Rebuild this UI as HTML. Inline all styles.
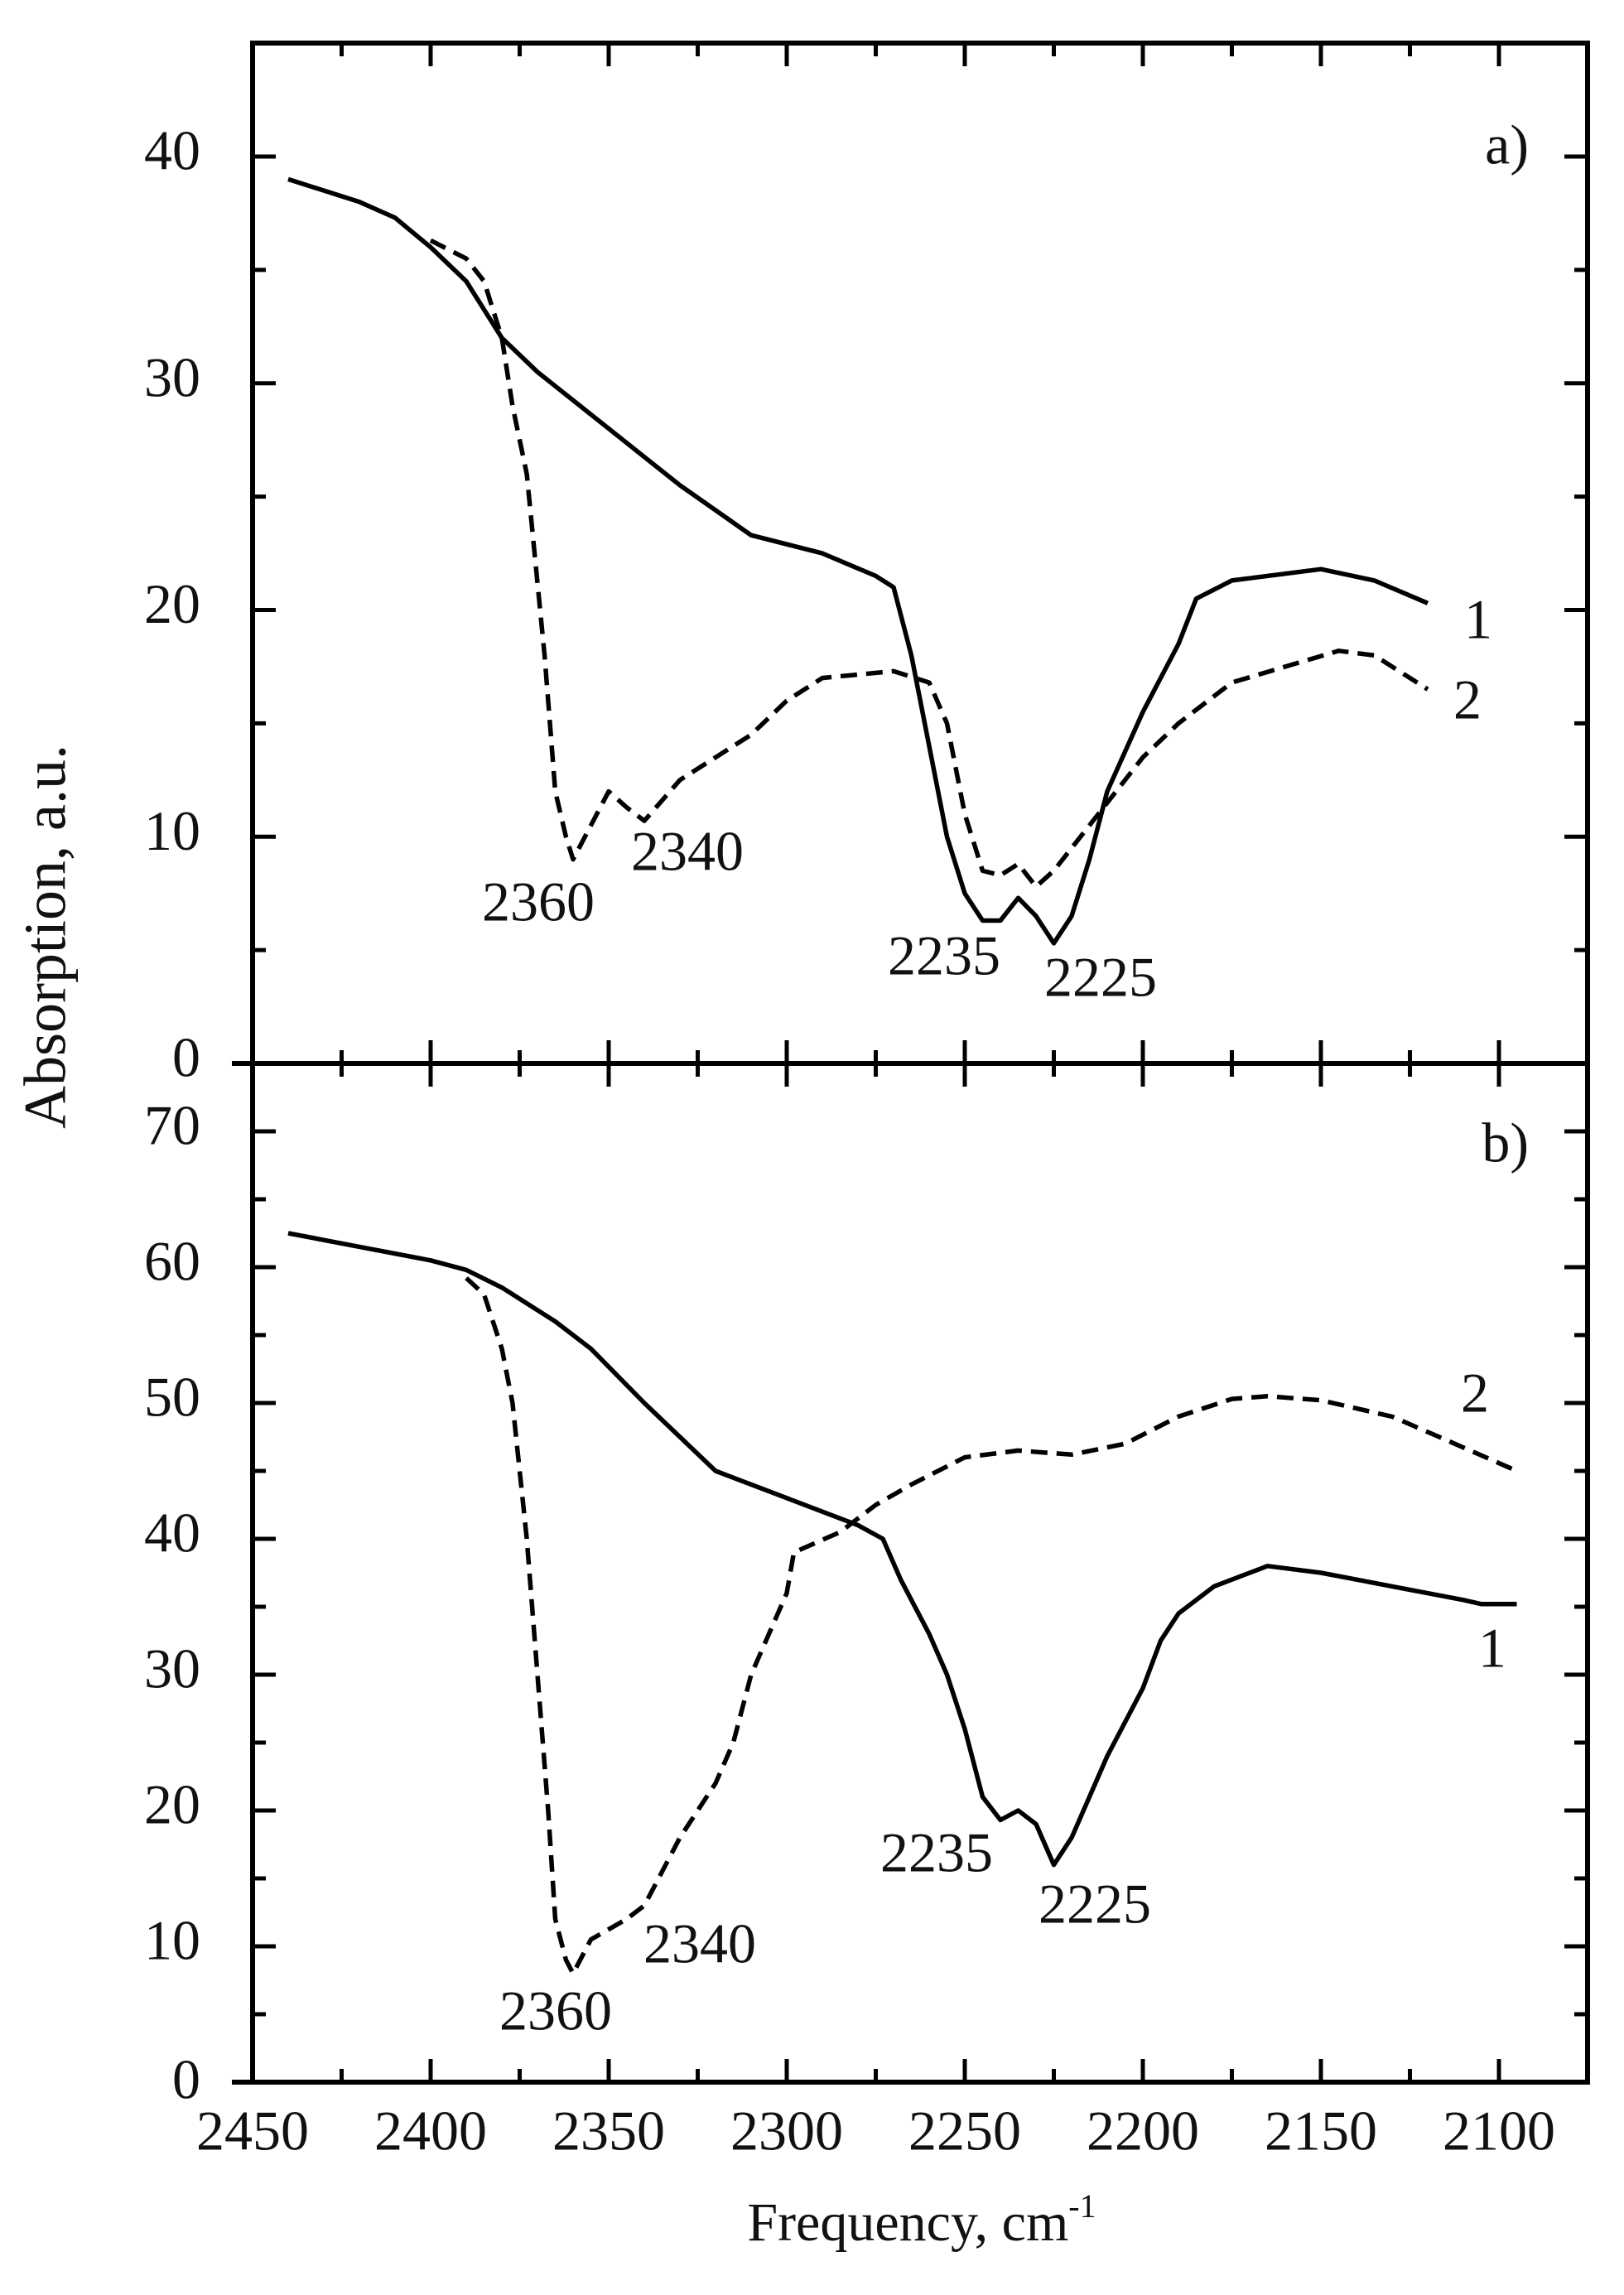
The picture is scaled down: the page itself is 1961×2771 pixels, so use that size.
<!DOCTYPE html>
<html><head><meta charset="utf-8"><style>
html,body{margin:0;padding:0;background:#fff;}
svg{display:block;}
text{font-family:"Liberation Serif",serif;fill:#111;}
</style></head><body>
<svg id="s" width="1961" height="2771" viewBox="0 0 1961 2771" xmlns="http://www.w3.org/2000/svg">
<g id="g"></g>
<g font-size="68">
<text x="1846" y="182" text-anchor="end" dominant-baseline="middle">a)</text>
<text x="1846" y="1387" text-anchor="end" dominant-baseline="middle">b)</text>
<text x="1785" y="755" text-anchor="middle" dominant-baseline="middle">1</text>
<text x="1772" y="852" text-anchor="middle" dominant-baseline="middle">2</text>
<text x="650" y="1096" text-anchor="middle" dominant-baseline="middle">2360</text>
<text x="830" y="1035" text-anchor="middle" dominant-baseline="middle">2340</text>
<text x="1140" y="1161" text-anchor="middle" dominant-baseline="middle">2235</text>
<text x="1329" y="1187" text-anchor="middle" dominant-baseline="middle">2225</text>
<text x="1781" y="1689" text-anchor="middle" dominant-baseline="middle">2</text>
<text x="1802" y="1997" text-anchor="middle" dominant-baseline="middle">1</text>
<text x="1131" y="2244" text-anchor="middle" dominant-baseline="middle">2235</text>
<text x="1322" y="2306" text-anchor="middle" dominant-baseline="middle">2225</text>
<text x="845" y="2354" text-anchor="middle" dominant-baseline="middle">2340</text>
<text x="671" y="2435" text-anchor="middle" dominant-baseline="middle">2360</text>
</g>
<text x="62" y="1131" font-size="72" text-anchor="middle" dominant-baseline="middle" transform="rotate(-90 62 1131)">Absorption, a.u.</text>
<text x="1113" y="2705" font-size="66" text-anchor="middle">Frequency, cm<tspan font-size="40" dy="-28">-1</tspan></text>
</svg>
<script>
var g=document.getElementById('g');var NS='http://www.w3.org/2000/svg';
function el(n,a){var e=document.createElementNS(NS,n);for(var k in a)e.setAttribute(k,a[k]);g.appendChild(e);return e;}
function X(f){return 305+(2450-f)*4.3;}
var L=305,R=1917,T=52,M=1284,B=2514;
function Ya(v){return 1284-v*27.375;}
function Yb(v){return 2514-v*16.4;}
el('rect',{x:L,y:T,width:R-L,height:B-T,fill:'none',stroke:'#000','stroke-width':6});
el('line',{x1:L-25,y1:M,x2:R,y2:M,stroke:'#000','stroke-width':6});
el('line',{x1:L-25,y1:B,x2:L,y2:B,stroke:'#000','stroke-width':6});
function lbl(x,y,t,anc){var e=el('text',{x:x,y:y,'font-size':68,'text-anchor':anc,'dominant-baseline':'middle'});e.textContent=t;}
for(var f=2450;f>=2075;f-=25){var x=X(f);var maj=(f%50==0);var len=maj?28:16;
 [[T,1],[M,-1],[M,1],[B,-1]].forEach(function(p){el('line',{x1:x,y1:p[0],x2:x,y2:p[0]+p[1]*len,stroke:'#000','stroke-width':5});});
 if(maj)lbl(x,2580,String(f),'middle');}
for(var v=0;v<=45;v+=5){var y=Ya(v);var maj=(v%10==0);var len=maj?28:16;
 if(v>0){el('line',{x1:L,y1:y,x2:L+len,y2:y,stroke:'#000','stroke-width':5});el('line',{x1:R,y1:y,x2:R-len,y2:y,stroke:'#000','stroke-width':5});}
 if(maj)lbl(242,y,String(v),'end');}
for(var v=0;v<=75;v+=5){var y=Yb(v);var maj=(v%10==0);var len=maj?28:16;
 if(v>0&&v<75){el('line',{x1:L,y1:y,x2:L+len,y2:y,stroke:'#000','stroke-width':5});el('line',{x1:R,y1:y,x2:R-len,y2:y,stroke:'#000','stroke-width':5});}
 if(maj)lbl(242,y+(v==0?4:0),String(v),'end');}
function curve(d,Y,dash){var s='';for(var i=0;i<d.length;i+=2){s+=(i?'L':'M')+X(d[i]).toFixed(1)+','+Y(d[i+1]).toFixed(1);}
 var a={d:s,fill:'none',stroke:'#000','stroke-width':5.5,'stroke-linejoin':'round'};if(dash)a['stroke-dasharray']='20,11';el('path',a);}
curve([2440,39,2420,38,2410,37.3,2400,36,2390,34.5,2380,32,2370,30.5,2350,28,2330,25.5,2310,23.3,2290,22.5,2275,21.5,2270,21,2265,18,2260,14,2255,10,2250,7.5,2245,6.3,2240,6.3,2235,7.3,2230,6.5,2225,5.3,2220,6.5,2215,9,2210,12,2200,15.5,2190,18.5,2185,20.5,2175,21.3,2150,21.8,2135,21.3,2120,20.3],Ya,false);
curve([2400,36.3,2390,35.5,2385,34.5,2380,32,2377,29,2373,26,2368,18,2365,12,2362,10,2360,9,2355,10.5,2350,12,2345,11.3,2340,10.7,2330,12.5,2310,14.5,2300,16,2290,17,2270,17.3,2260,16.8,2255,15,2250,11,2245,8.5,2240,8.3,2235,8.8,2230,7.8,2225,8.5,2220,9.5,2210,11.5,2200,13.5,2190,15,2175,16.8,2160,17.5,2145,18.2,2135,18,2120,16.5],Ya,true);
curve([2440,62.5,2420,61.5,2400,60.5,2390,59.8,2380,58.5,2365,56,2355,54,2340,50,2320,45,2305,43.5,2290,42,2280,41,2273,40,2268,37,2260,33,2255,30,2250,26,2245,21,2240,19.3,2235,20,2230,19,2225,16,2220,18,2210,24,2200,29,2195,32.5,2190,34.5,2180,36.5,2165,38,2150,37.5,2130,36.5,2110,35.5,2105,35.2,2095,35.2],Yb,false);
curve([2390,59.2,2385,58,2380,54,2377,50,2373,40,2370,30,2367,20,2365,12,2362,9,2360,8,2355,10.5,2345,12,2340,13,2330,18,2320,22,2315,25,2310,30,2300,36,2298,39,2285,40.5,2275,42.5,2265,44,2250,46,2235,46.5,2220,46.2,2205,47,2190,49,2175,50.3,2165,50.5,2150,50.2,2130,49,2115,47.3,2095,45],Yb,true);
</script>
</body></html>
